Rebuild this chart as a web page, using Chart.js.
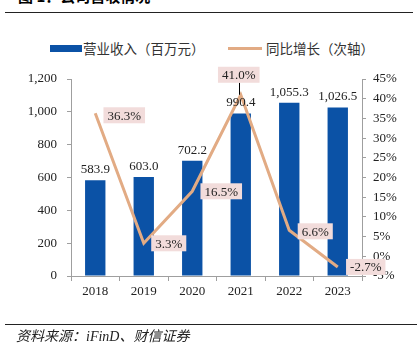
<!DOCTYPE html>
<html>
<head>
<meta charset="utf-8">
<script src="https://cdn.jsdelivr.net/npm/chart.js@4.4.0/dist/chart.umd.min.js"></script>
<style>
  body { margin: 0; background: #fff; }
  #wrap { position: relative; width: 417px; height: 349px; overflow: hidden; background: #fff; }
  #chart { position: absolute; left: 0; top: 0; }
  .title { position: absolute; left: 18px; top: -15px; font: bold 15px "Noto Sans CJK SC", sans-serif; color: #000; white-space: nowrap; }
  .rule { position: absolute; left: 5px; width: 408px; height: 1px; background: #222; }
  .legend { position: absolute; top: 38px; font: 13.5px "Noto Sans CJK SC", sans-serif; color: #333; white-space: nowrap; }
  .swatch-bar { position: absolute; left: 50px; top: 45px; width: 32px; height: 7px; background: #0b52a6; }
  .swatch-line { position: absolute; left: 228px; top: 47px; width: 34px; height: 3px; background: #e2ab84; }
  .source { position: absolute; left: 16px; top: 325px; font: italic 14px "Liberation Serif", "Noto Sans CJK SC", serif; color: #222; white-space: nowrap; }
</style>
</head>
<body>
<div id="wrap">
  <div class="title">图 1：公司营收情况</div>
  <div class="rule" style="top:12px"></div>
  <div class="swatch-bar"></div>
  <div class="legend" style="left:83px">营业收入（百万元）</div>
  <div class="swatch-line"></div>
  <div class="legend" style="left:266px">同比增长（次轴）</div>
  <canvas id="chart" width="417" height="349"></canvas>
  <div class="rule" style="top:324px; width:412px"></div>
  <div class="source">资料来源：iFinD、财信证券</div>
</div>
<script>
// 數據
const years = ['2018', '2019', '2020', '2021', '2022', '2023'];
const revenue = [583.9, 603.0, 702.2, 990.4, 1055.3, 1026.5];
const growth = [36.3, 3.3, 16.5, 41.0, 6.6, -2.7];

// 標籤相對位置 (dx, dy)
const growthLabelOffsets = [[29, 2], [25, 0], [29, 0], [-2, -20], [26, 1], [28, 0]];

const axisColor = '#9f9f9f';
const textColor = '#222';
const serif = { family: '"Liberation Serif", "Times New Roman", serif', size: 13 };

// 數值標籤：先畫柱狀數值，再畫增長率標籤（都在折線之上）
const valueLabels = {
    id: 'valueLabels',
    afterDatasetsDraw(chart) {
        const ctx = chart.ctx;
        const barMeta = chart.getDatasetMeta(1);
        const lineMeta = chart.getDatasetMeta(0);
        ctx.save();
        ctx.font = '13px "Liberation Serif"';
        ctx.textAlign = 'center';

        ctx.fillStyle = textColor;
        ctx.textBaseline = 'bottom';
        barMeta.data.forEach((bar, i) => {
            const txt = revenue[i].toLocaleString('en-US', { minimumFractionDigits: 1, maximumFractionDigits: 1 });
            ctx.fillText(txt, bar.x, bar.y - 4);
        });

        lineMeta.data.forEach((pt, i) => {
            const [dx, dy] = growthLabelOffsets[i];
            const txt = growth[i].toFixed(1) + '%';
            const w = ctx.measureText(txt).width + 8;
            const h = 16;
            const cx = pt.x + dx, cy = pt.y + dy;
            if (dy < -10) {
                // 引導線
                ctx.strokeStyle = '#000';
                ctx.lineWidth = 1;
                ctx.beginPath();
                ctx.moveTo(Math.round(cx) + 0.5, cy + h / 2);
                ctx.lineTo(Math.round(cx) + 0.5, pt.y);
                ctx.stroke();
            }
            ctx.fillStyle = '#f2dcdb';
            ctx.fillRect(cx - w / 2, cy - h / 2, w, h);
            ctx.fillStyle = textColor;
            ctx.textBaseline = 'middle';
            ctx.fillText(txt, cx, cy + 1);
        });
        ctx.restore();
    }
};

new Chart(document.getElementById('chart').getContext('2d'), {
    type: 'bar',
    data: {
        labels: years,
        datasets: [
            {
                type: 'line',
                label: '同比增长（次轴）',
                data: growth,
                yAxisID: 'y1',
                borderColor: '#e2ab84',
                borderWidth: 3,
                pointRadius: 0,
                tension: 0,
                order: 0
            },
            {
                type: 'bar',
                label: '营业收入（百万元）',
                data: revenue,
                yAxisID: 'y',
                backgroundColor: '#0b52a6',
                barPercentage: 0.42,
                categoryPercentage: 1,
                order: 1
            }
        ]
    },
    options: {
        responsive: false,
        animation: false,
        layout: { padding: { top: 79, bottom: 43, left: 0, right: 0 } },
        plugins: { legend: { display: false }, tooltip: { enabled: false } },
        scales: {
            x: {
                grid: { drawOnChartArea: false, tickLength: 5, color: axisColor, offset: true },
                border: { color: axisColor },
                ticks: { font: serif, color: textColor, padding: 3 },
                afterFit: s => { s.height = 30; }
            },
            y: {
                position: 'left',
                min: 0, max: 1200,
                grid: { drawOnChartArea: false, tickLength: 4, color: axisColor },
                border: { color: axisColor },
                ticks: { stepSize: 200, font: serif, color: textColor, padding: 10,
                         callback: v => v.toLocaleString('en-US') },
                afterFit: s => { s.width = 71; }
            },
            y1: {
                position: 'right',
                min: -5, max: 45,
                grid: { drawOnChartArea: false, tickLength: 4, color: axisColor },
                border: { color: axisColor },
                ticks: { stepSize: 5, font: serif, color: textColor, padding: 7,
                         callback: v => v + '%' },
                afterFit: s => { s.width = 55; }
            }
        }
    },
    plugins: [valueLabels]
});
</script>
</body>
</html>
